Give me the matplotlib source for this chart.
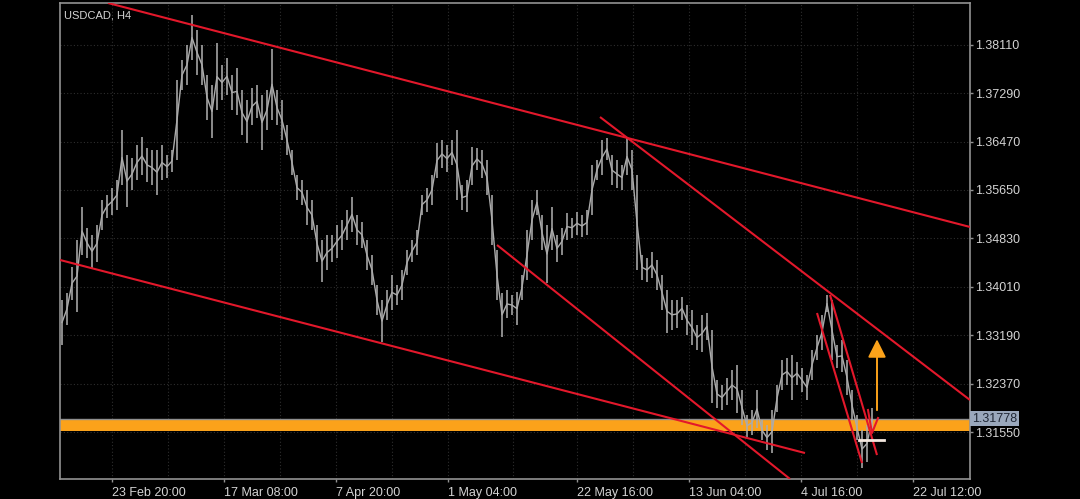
import matplotlib.pyplot as plt
import numpy as np

symbol_title = "USDCAD, H4"

# H4 bars (one entry per bar column)
bar_high = [
    1.3379, 1.3391, 1.3435, 1.3480, 1.3536, 1.3501, 1.3489, 1.3506, 1.3548, 1.3557,
    1.3568, 1.3582, 1.3667, 1.3624, 1.3619, 1.3641, 1.3655, 1.3636, 1.3633, 1.3633,
    1.3641, 1.3624, 1.3633, 1.3751, 1.3785, 1.3811, 1.3861, 1.3836, 1.3811, 1.3760,
    1.3743, 1.3814, 1.3777, 1.3789, 1.3760, 1.3772, 1.3734, 1.3717, 1.3738, 1.3743,
    1.3726, 1.3734, 1.3804, 1.3734, 1.3717, 1.3675, 1.3633, 1.3590, 1.3582, 1.3565,
    1.3548, 1.3506, 1.3480, 1.3489, 1.3489, 1.3506, 1.3514, 1.3531, 1.3553, 1.3523,
    1.3511, 1.3480, 1.3455, 1.3404, 1.3379, 1.3396, 1.3421, 1.3404, 1.3429, 1.3463,
    1.3480, 1.3497, 1.3557, 1.3568, 1.3590, 1.3645, 1.3650, 1.3641, 1.3650, 1.3667,
    1.3573, 1.3582, 1.3638, 1.3636, 1.3633, 1.3616, 1.3557, 1.3463, 1.3391, 1.3396,
    1.3387, 1.3392, 1.3421, 1.3497, 1.3548, 1.3565, 1.3523, 1.3506, 1.3536, 1.3489,
    1.3501, 1.3526, 1.3518, 1.3528, 1.3523, 1.3531, 1.3607, 1.3616, 1.3650, 1.3653,
    1.3624, 1.3616, 1.3607, 1.3653, 1.3633, 1.3590, 1.3455, 1.3450, 1.3460, 1.3446,
    1.3421, 1.3396, 1.3379, 1.3379, 1.3384, 1.3370, 1.3362, 1.3336, 1.3353, 1.3357,
    1.3328, 1.3243, 1.3235, 1.3247, 1.3260, 1.3269, 1.3226, 1.3184, 1.3192, 1.3226,
    1.3175, 1.3167, 1.3192, 1.3235, 1.3277, 1.3280, 1.3285, 1.3274, 1.3263, 1.3252,
    1.3294, 1.3319, 1.3353, 1.3387, 1.3379, 1.3302, 1.3311, 1.3277, 1.3226, 1.3184,
    1.3158, 1.3167, 1.3196,
]
bar_low = [
    1.3302, 1.3336, 1.3379, 1.3358, 1.3455, 1.3450, 1.3433, 1.3443, 1.3497, 1.3518,
    1.3523, 1.3531, 1.3573, 1.3536, 1.3565, 1.3582, 1.3590, 1.3579, 1.3573, 1.3557,
    1.3582, 1.3585, 1.3595, 1.3616, 1.3734, 1.3743, 1.3785, 1.3760, 1.3743, 1.3684,
    1.3653, 1.3700, 1.3717, 1.3726, 1.3700, 1.3692, 1.3658, 1.3645, 1.3675, 1.3687,
    1.3633, 1.3667, 1.3684, 1.3675, 1.3650, 1.3624, 1.3590, 1.3548, 1.3540, 1.3506,
    1.3497, 1.3443, 1.3409, 1.3429, 1.3443, 1.3450, 1.3463, 1.3480, 1.3494, 1.3472,
    1.3467, 1.3429, 1.3404, 1.3353, 1.3307, 1.3345, 1.3362, 1.3370, 1.3379, 1.3421,
    1.3443, 1.3455, 1.3523, 1.3528, 1.3540, 1.3585, 1.3602, 1.3595, 1.3607, 1.3548,
    1.3531, 1.3528, 1.3573, 1.3599, 1.3585, 1.3557, 1.3472, 1.3379, 1.3316, 1.3348,
    1.3353, 1.3336, 1.3379, 1.3413, 1.3480, 1.3523, 1.3463, 1.3407, 1.3463, 1.3443,
    1.3455, 1.3480, 1.3484, 1.3489, 1.3485, 1.3489, 1.3523, 1.3582, 1.3590, 1.3616,
    1.3573, 1.3568, 1.3565, 1.3590, 1.3565, 1.3429, 1.3413, 1.3409, 1.3416, 1.3396,
    1.3362, 1.3323, 1.3328, 1.3331, 1.3345, 1.3319, 1.3302, 1.3294, 1.3291, 1.3311,
    1.3204, 1.3196, 1.3192, 1.3201, 1.3209, 1.3187, 1.3167, 1.3147, 1.3150, 1.3162,
    1.3141, 1.3124, 1.3119, 1.3189, 1.3226, 1.3235, 1.3209, 1.3235, 1.3223, 1.3209,
    1.3243, 1.3277, 1.3294, 1.3358, 1.3277, 1.3263, 1.3257, 1.3218, 1.3175, 1.3141,
    1.3094, 1.3104, 1.3155,
]

price_ticks = [1.31550, 1.32370, 1.33190, 1.34010, 1.34830, 1.35650, 1.36470, 1.37290, 1.38110]
date_ticks = [10, 32.4, 54.8, 77.2, 103, 125.4, 147.8, 170.2]
date_labels = ["23 Feb 20:00", "17 Mar 08:00", "7 Apr 20:00", "1 May 04:00",
               "22 May 16:00", "13 Jun 04:00", "4 Jul 16:00", "22 Jul 12:00"]

last_price = 1.31778
zone_low, zone_high = 1.31567, 1.31753

# drawn trend lines: (bar, price) -> (bar, price)
trend_lines = [
    ((9.2, 1.38817), (181.6, 1.35023)),
    ((107.6, 1.36886), (181.6, 1.32092)),
    ((-0.4, 1.34464), (148.6, 1.31194)),
    ((87.0, 1.34718), (145.6, 1.30754)),
    ((151.0, 1.33566), (160.0, 1.31025)),
    ((153.6, 1.33871), (163.0, 1.31160)),
]
sell_mark = ([161.2, 162.0, 163.2], [1.31923, 1.31533, 1.31787])
target_arrow = (163.0, 1.3192, 1.3312)
white_level = (159.4, 164.4, 1.31414)

BG = "black"
FRAME = "#929292"
TXT = "#d4d4d4"
RED = "#e3182b"
ORANGE = "#fba21a"

fig = plt.figure(figsize=(10.8, 4.99), dpi=100, facecolor=BG)
ax = fig.add_axes([60 / 1080, 20 / 499, 910 / 1080, 476 / 499])
ax.set_facecolor(BG)

xs = np.arange(len(bar_high))
highs = np.array(bar_high)
lows = np.array(bar_low)

ax.axhspan(zone_low, zone_high, color=ORANGE, zorder=1, lw=0)
ax.axhline(last_price, color="#8f8f8f", lw=1.0, zorder=1.5)

ax.vlines(xs, lows, highs, color="#ababab", lw=1.15, zorder=2)
ax.plot(xs, (highs + lows) / 2, color="#ababab", lw=1.0, zorder=2)

for (x0, y0), (x1, y1) in trend_lines:
    ax.plot([x0, x1], [y0, y1], color=RED, lw=1.5, zorder=3, solid_capstyle="butt")
ax.plot(sell_mark[0], sell_mark[1], color=RED, lw=1.5, zorder=3)

ax.plot([white_level[0], white_level[1]], [white_level[2]] * 2, color="#f3e7de", lw=2, zorder=4)

ax.annotate("", xy=(target_arrow[0], target_arrow[2]), xytext=(target_arrow[0], target_arrow[1]),
            arrowprops=dict(arrowstyle="-|>,head_width=0.55,head_length=1.1",
                            color=ORANGE, lw=1.4, shrinkA=0, shrinkB=0), zorder=4)

ax.set_xlim(-0.4, 181.6)
ax.set_ylim(1.30754, 1.38817)

ax.yaxis.tick_right()
ax.set_yticks(price_ticks)
ax.set_yticklabels([f"{p:.5f}" for p in price_ticks])
ax.set_xticks(date_ticks)
ax.set_xticklabels(date_labels)
minor = [(a + b) / 2 for a, b in zip(date_ticks[:-1], date_ticks[1:])]
ax.set_xticks(minor, minor=True)
for lbl in ax.get_xticklabels():
    lbl.set_horizontalalignment("left")

ax.tick_params(axis="both", colors=FRAME, labelcolor=TXT, labelsize=9, length=2.5, width=1)
ax.tick_params(axis="x", which="minor", length=0)
ax.tick_params(axis="y", pad=1)
ax.tick_params(axis="x", pad=3)
for lbl in ax.get_xticklabels() + ax.get_yticklabels():
    lbl.set_fontfamily("Liberation Sans")

ax.grid(True, which="both", color="#2e2e2e", lw=0.8, ls=(0, (1, 2)))
ax.set_axisbelow(True)
for s in ax.spines.values():
    s.set_color(FRAME)
    s.set_linewidth(1.2)

ax.text(0.004, 0.985, symbol_title, transform=ax.transAxes, ha="left", va="top",
        color=TXT, fontsize=8, family="Liberation Sans")

ax.text(1.002, last_price, f"{last_price:.5f}", transform=ax.get_yaxis_transform(),
        ha="left", va="center", color="#1f2735", fontsize=9, family="Liberation Sans",
        bbox=dict(boxstyle="square,pad=0.15", fc="#9aa8bc", ec="none"), zorder=5)

fig.savefig("out.png", dpi=100, facecolor=BG)
